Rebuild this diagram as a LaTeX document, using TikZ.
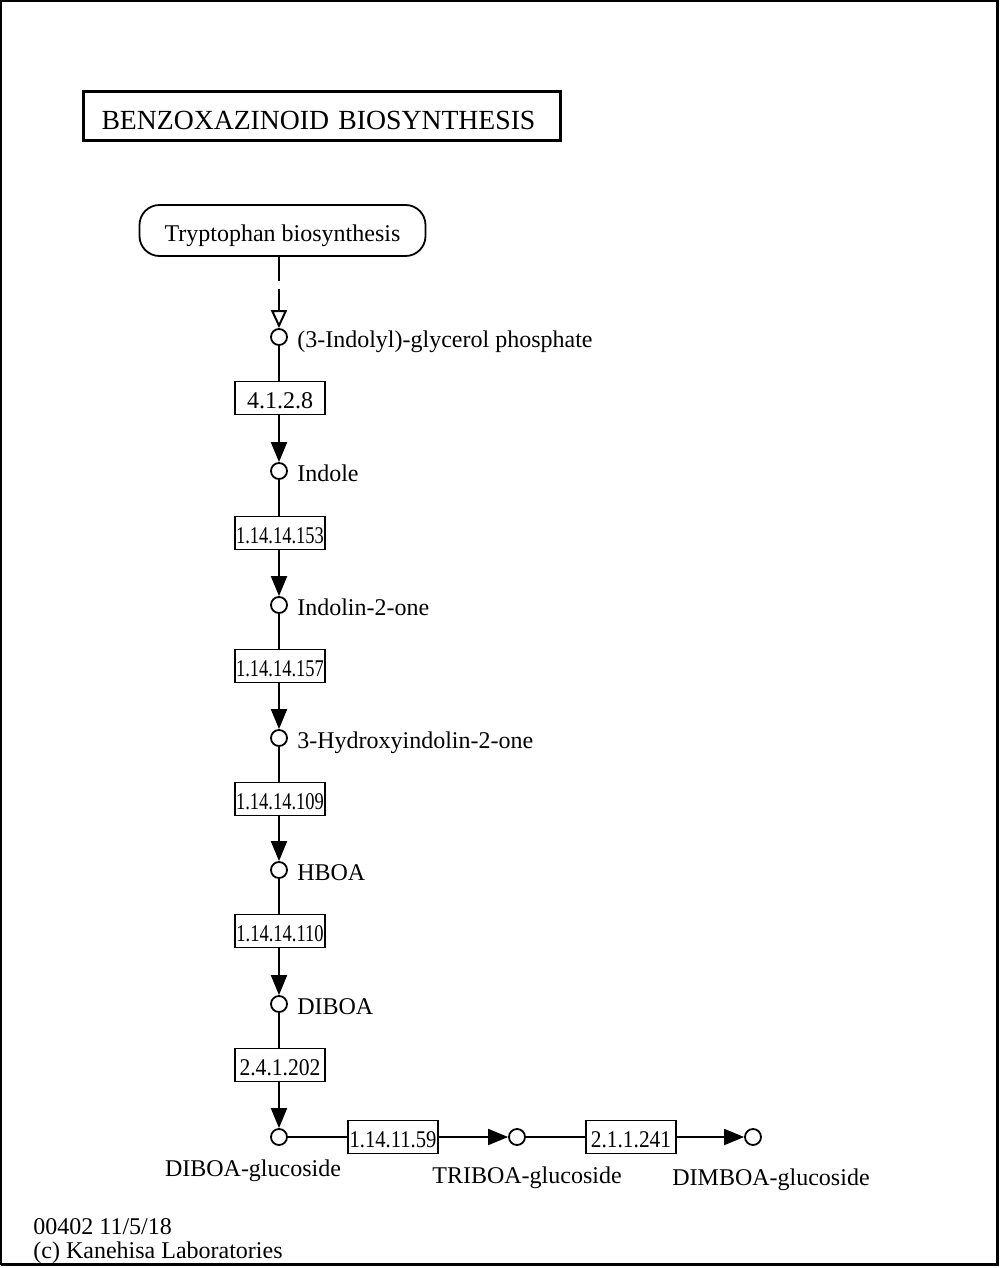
\documentclass[tikz,border=0pt]{standalone}
\usepackage{fontspec}
\setmainfont{Liberation Serif}
\usepackage{graphicx}
\usetikzlibrary{arrows.meta,positioning}

\newcommand{\ecnum}[2]{\scalebox{#1}[1]{#2}}

\begin{document}
\begin{tikzpicture}[x=0.5pt, y=-0.5pt,
    cpd/.style={circle, draw, line width=0.9pt, minimum size=8pt, inner sep=0pt},
    enz/.style={draw, line width=0.9pt, minimum width=45pt, minimum height=16.5pt, inner sep=0pt,
                text height=10.9pt, text depth=0pt, font=\fontsize{12}{14}\selectfont},
    lbl/.style={inner sep=0pt, text height=10.9pt, text depth=0pt, font=\fontsize{12}{14}\selectfont},
    link/.style={line width=1pt},
    rxn/.style={line width=1pt, -{Triangle[length=10pt, width=8pt]}}]
    \useasboundingbox (0,0) rectangle (1001,1268);

    % Frame
    \draw [line width=1pt] (1,1) rectangle (997.5,1264);
    \draw [line width=1.5pt] (997.5,1) -- (997.5,1264) -- (1,1264);

    % Title
    \node [draw, line width=1.5pt, anchor=west, align=left, text width=220pt, inner xsep=9.25pt,
           text height=13pt, text depth=0pt, minimum height=24.5pt,
           font=\fontsize{13.85}{16}\selectfont] (title) at (81.5,116)
          {BENZOXAZINOID BIOSYNTHESIS};

    % Map link
    \node [draw, line width=0.9pt, rounded corners=10pt, minimum width=143pt, minimum height=25.5pt,
           text height=10.9pt, text depth=0pt, font=\fontsize{12}{14}\selectfont] (trp) at (282.5,230.5)
          {Tryptophan biosynthesis};

    % Compounds
    \node [cpd] (c1) at (279,337) {};
    \node [cpd] (c2) at (279,471) {};
    \node [cpd] (c3) at (279,605) {};
    \node [cpd] (c4) at (279,738) {};
    \node [cpd] (c5) at (279,870) {};
    \node [cpd] (c6) at (279,1004) {};
    \node [cpd] (c7) at (279,1137) {};
    \node [cpd] (c8) at (517,1137) {};
    \node [cpd] (c9) at (753,1137) {};

    \node [lbl, right=4.5pt of c1] (n1) {(3-Indolyl)-glycerol phosphate};
    \node [lbl, right=4.5pt of c2] (n2) {Indole};
    \node [lbl, right=4.5pt of c3] (n3) {Indolin-2-one};
    \node [lbl, right=4.5pt of c4] (n4) {3-Hydroxyindolin-2-one};
    \node [lbl, right=4.5pt of c5] (n5) {HBOA};
    \node [lbl, right=4.5pt of c6] (n6) {DIBOA};
    \node [lbl] (n7) at (253,1166) {DIBOA-glucoside};
    \node [lbl] (n8) at (527,1173) {TRIBOA-glucoside};
    \node [lbl] (n9) at (771,1175) {DIMBOA-glucoside};

    % Enzymes
    \node [enz] (e1) at (280,398) {4.1.2.8};
    \node [enz] (e2) at (280,533) {\ecnum{0.77}{1.14.14.153}};
    \node [enz] (e3) at (280,666) {\ecnum{0.77}{1.14.14.157}};
    \node [enz] (e4) at (280,799) {\ecnum{0.77}{1.14.14.109}};
    \node [enz] (e5) at (280,931) {\ecnum{0.77}{1.14.14.110}};
    \node [enz] (e6) at (280,1065) {\ecnum{0.9}{2.4.1.202}};
    \node [enz] (e7) at (393,1137) {\ecnum{0.86}{1.14.11.59}};
    \node [enz] (e8) at (631,1137) {\ecnum{0.89}{2.1.1.241}};

    % Reactions
    \draw [line width=1pt, dash pattern=on 12pt off 4pt, -{Triangle[open, length=9pt, width=8pt]}]
        (trp.south -| c1) -- (c1);
    \draw [link] (c1) -- (c1 |- e1.north);
    \draw [rxn] (c1 |- e1.south) -- (c2);
    \draw [link] (c2) -- (c2 |- e2.north);
    \draw [rxn] (c2 |- e2.south) -- (c3);
    \draw [link] (c3) -- (c3 |- e3.north);
    \draw [rxn] (c3 |- e3.south) -- (c4);
    \draw [link] (c4) -- (c4 |- e4.north);
    \draw [rxn] (c4 |- e4.south) -- (c5);
    \draw [link] (c5) -- (c5 |- e5.north);
    \draw [rxn] (c5 |- e5.south) -- (c6);
    \draw [link] (c6) -- (c6 |- e6.north);
    \draw [rxn] (c6 |- e6.south) -- (c7);
    \draw [link] (c7) -- (e7);
    \draw [rxn] (e7) -- (c8);
    \draw [link] (c8) -- (e8);
    \draw [rxn] (e8) -- (c9);

    % Footer
    \node [lbl, anchor=west] (ver) at (33,1224) {00402 11/5/18};
    \node [lbl, anchor=west] (copy) at (33,1248) {(c) Kanehisa Laboratories};
\end{tikzpicture}
\end{document}
